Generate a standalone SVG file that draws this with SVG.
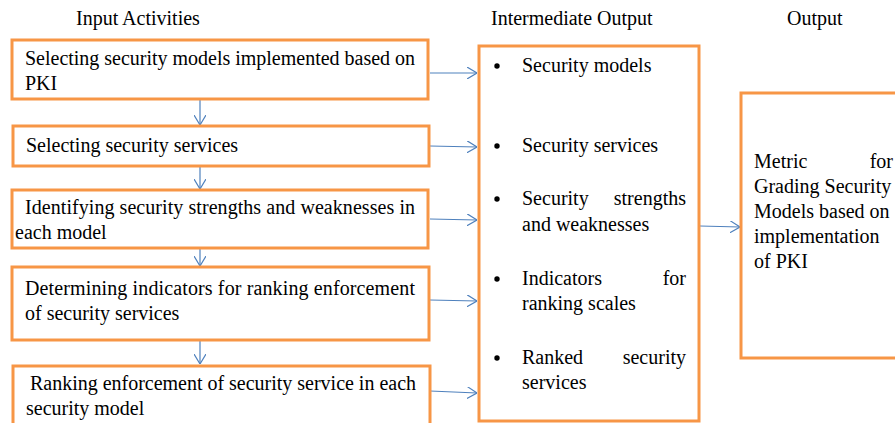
<svg xmlns="http://www.w3.org/2000/svg" width="895" height="423" viewBox="0 0 895 423">
  <style>
    .box { fill: #ffffff; stroke: #F79646; stroke-width: 3; }
    .t { font-family: "Liberation Serif", Tinos, "Times New Roman", serif; font-size: 20px; fill: #000000; }
    .end { text-anchor: end; }
    .link { stroke: #4F81BD; stroke-width: 1.2; fill: none; marker-end: url(#arrow); }
  </style>
  <defs>
    <marker id="arrow" viewBox="0 0 10 12" refX="10" refY="6" markerWidth="10" markerHeight="12" markerUnits="userSpaceOnUse" orient="auto">
      <path d="M0,0 L10,6 L0,12" fill="none" stroke="#4F81BD" stroke-width="1.2"/>
    </marker>
  </defs>

  <rect width="895" height="423" fill="#ffffff"/>

  <!-- column headings -->
  <g id="headings">
    <text class="t" x="76" y="25">Input Activities</text>
    <text class="t" x="491" y="25">Intermediate Output</text>
    <text class="t" x="787" y="25">Output</text>
  </g>

  <!-- connectors -->
  <g id="connectors">
    <line class="link" x1="200" y1="100" x2="200" y2="125"/>
    <line class="link" x1="200" y1="167" x2="200" y2="189"/>
    <line class="link" x1="200" y1="249" x2="200" y2="266"/>
    <line class="link" x1="200" y1="341" x2="200" y2="364"/>
    <line class="link" x1="430" y1="73" x2="477" y2="73"/>
    <line class="link" x1="430" y1="146" x2="477" y2="147"/>
    <line class="link" x1="430" y1="219" x2="477" y2="220"/>
    <line class="link" x1="430" y1="300" x2="477" y2="301"/>
    <line class="link" x1="430" y1="391" x2="477" y2="393"/>
    <line class="link" x1="700" y1="226" x2="740" y2="227"/>
  </g>

  <!-- input activities -->
  <g id="input1">
    <rect class="box" x="12" y="40" width="416" height="59"/>
    <text class="t" x="25" y="65" textLength="390" lengthAdjust="spacing">Selecting security models implemented based on</text>
    <text class="t" x="25" y="90">PKI</text>
  </g>
  <g id="input2">
    <rect class="box" x="13" y="126" width="416" height="40"/>
    <text class="t" x="26" y="152">Selecting security services</text>
  </g>
  <g id="input3">
    <rect class="box" x="12" y="190" width="416" height="58"/>
    <text class="t" x="25" y="214" textLength="390" lengthAdjust="spacing">Identifying security strengths and weaknesses in</text>
    <text class="t" x="15" y="239">each model</text>
  </g>
  <g id="input4">
    <rect class="box" x="12" y="267" width="417" height="73"/>
    <text class="t" x="25" y="295" textLength="390" lengthAdjust="spacing">Determining indicators for ranking enforcement</text>
    <text class="t" x="25" y="320">of security services</text>
  </g>
  <g id="input5">
    <rect class="box" x="13" y="366" width="417" height="70"/>
    <text class="t" x="30" y="390" textLength="386" lengthAdjust="spacing">Ranking enforcement of security service in each</text>
    <text class="t" x="26" y="415">security model</text>
  </g>

  <!-- intermediate output -->
  <g id="intermediate">
    <rect class="box" x="479" y="46" width="220" height="375"/>
    <circle cx="497" cy="66" r="2.7"/>
    <text class="t" x="522" y="72">Security models</text>
    <circle cx="497" cy="146" r="2.7"/>
    <text class="t" x="522" y="152">Security services</text>
    <circle cx="497" cy="199" r="2.7"/>
    <text class="t" x="522" y="205">Security</text>
    <text class="t end" x="686" y="205">strengths</text>
    <text class="t" x="522" y="231">and weaknesses</text>
    <circle cx="497" cy="279" r="2.7"/>
    <text class="t" x="522" y="285">Indicators</text>
    <text class="t end" x="686" y="285">for</text>
    <text class="t" x="522" y="310">ranking scales</text>
    <circle cx="497" cy="358" r="2.7"/>
    <text class="t" x="522" y="364">Ranked</text>
    <text class="t end" x="686" y="364">security</text>
    <text class="t" x="522" y="389">services</text>
  </g>

  <!-- final output -->
  <g id="output">
    <rect class="box" x="741" y="93" width="170" height="265"/>
    <text class="t" x="754" y="168">Metric</text>
    <text class="t end" x="893" y="168">for</text>
    <text class="t" x="754" y="193">Grading Security</text>
    <text class="t" x="754" y="218">Models based on</text>
    <text class="t" x="754" y="243">implementation</text>
    <text class="t" x="754" y="268">of PKI</text>
  </g>
</svg>
